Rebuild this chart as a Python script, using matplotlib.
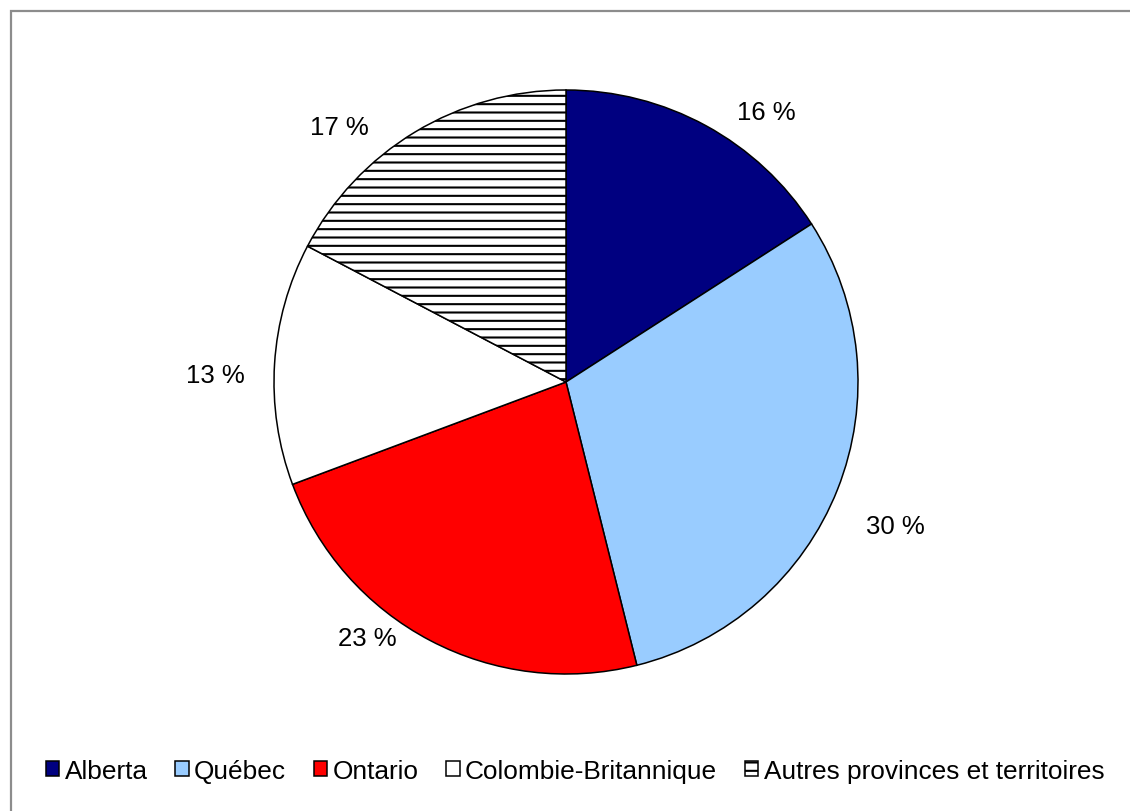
import numpy as np
import matplotlib.pyplot as plt
from matplotlib.patches import Rectangle

plt.rcParams['font.family'] = ['Liberation Sans', 'DejaVu Sans']
plt.rcParams['hatch.linewidth'] = 1.5

provinces = ['Alberta', 'Québec', 'Ontario', 'Colombie-Britannique',
             'Autres provinces et territoires']
shares = [15.9, 30.2, 23.2, 13.4, 17.3]
share_labels = ['16 %', '30 %', '23 %', '13 %', '17 %']

colors = ['#000080', '#99CCFF', '#FF0000', '#FFFFFF', '#FFFFFF']
hatches = [None, None, None, None, '--']
# label layout: radius (in pie radii) and angular nudge (deg, clockwise)
label_r = [1.15, 1.23, 1.11, 1.20, 1.17]
label_nudge = [8, 2, 10, -2.5, -10.5]

W, H = 1130, 812
fig = plt.figure(figsize=(W / 100, H / 100), dpi=100)

# outer chart frame (only top and left edges show)
fig.patches.append(Rectangle((10.5 / W, -0.1), 1.2, 1.1 - 11.5 / H,
                             transform=fig.transFigure, fill=False,
                             edgecolor='#8c8c8c', linewidth=1.6))

R = 292
cx, cy = 566, 383
ax = fig.add_axes([(cx - R) / W, (H - cy - R) / H, 2 * R / W, 2 * R / H])

wedges, _ = ax.pie(shares, colors=colors, startangle=90, counterclock=False,
                   radius=1, wedgeprops=dict(edgecolor='black', linewidth=1.1))
for w, h in zip(wedges, hatches):
    if h:
        w.set_hatch(h)

ax.set_xlim(-1, 1)
ax.set_ylim(-1, 1)

for w, txt, r, nudge in zip(wedges, share_labels, label_r, label_nudge):
    mid = (w.theta1 + w.theta2) / 2
    ang = np.deg2rad(mid - nudge)
    ax.text(r * np.cos(ang), r * np.sin(ang), txt, ha='center', va='center',
            fontsize=18.5, color='black')

fig.legend(wedges, provinces, loc='center', bbox_to_anchor=(575 / W, 40 / H),
           ncol=5, frameon=False, fontsize=18.9, handlelength=0.52,
           handleheight=0.52, handletextpad=0.2, columnspacing=1.05,
           borderaxespad=0)

fig.savefig('out.png', dpi=100)
